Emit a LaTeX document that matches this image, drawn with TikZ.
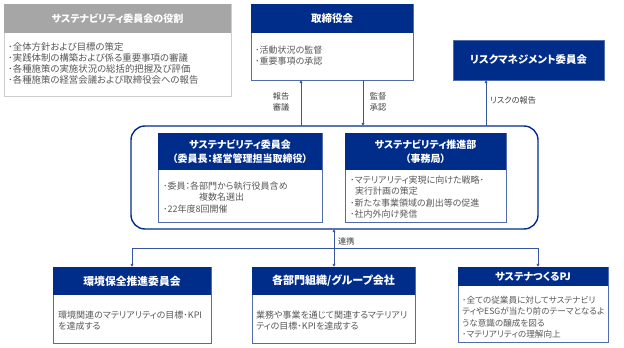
\documentclass[tikz,border=0pt]{standalone}
\usepackage{fontspec}
\setmainfont{Noto Sans CJK JP}[RawFeature=+palt]
\usetikzlibrary{arrows.meta}
\definecolor{navy}{RGB}{0,45,138}
\definecolor{edgeblue}{RGB}{80,108,172}
\definecolor{txtgray}{RGB}{89,89,89}
\definecolor{lblgray}{RGB}{64,64,64}
\definecolor{hdgray}{RGB}{166,166,166}
\definecolor{bdgray}{RGB}{205,205,205}
\definecolor{arrblue}{RGB}{55,85,160}
\begin{document}
\begin{tikzpicture}[x=1pt,y=-1pt,
  frame/.style={draw=edgeblue, line width=0.8pt, fill=white, anchor=north west, inner sep=0pt, outer sep=0pt},
  hdr/.style={fill=navy, anchor=north west, inner sep=0pt, outer sep=0pt},
  hdrtxt/.style={text=white, font=\bfseries\fontsize{10}{13}\selectfont, align=center, inner sep=0pt},
  bodytxt/.style={anchor=north west, inner sep=0pt, text=txtgray, font=\fontsize{9}{11.4}\selectfont, align=left},
  arr/.style={draw=arrblue, line width=0.7pt, -{Latex[length=3.2pt,width=3.4pt]}},
  darr/.style={draw=arrblue, line width=0.7pt, {Latex[length=3.2pt,width=3.4pt]}-{Latex[length=3.2pt,width=3.4pt]}},
  lbl/.style={text=lblgray, font=\fontsize{8.2}{11}\selectfont, align=center, inner sep=0pt}
]
\useasboundingbox (0,0) rectangle (624,348);

% role box
\node[draw=bdgray, line width=0.8pt, fill=white, anchor=north west, inner sep=0pt, outer sep=0pt, minimum width=227pt, minimum height=92pt] (role) at (4,4) {};
\node[fill=hdgray, anchor=north west, inner sep=0pt, outer sep=0pt, minimum width=227pt, minimum height=29pt] (rolehd) at (4,4) {};
\node[hdrtxt, font=\bfseries\fontsize{10}{12}\selectfont] (roleti) at (rolehd.center) {サステナビリティ委員会の役割};
\node[bodytxt, font=\fontsize{9.4}{11}\selectfont] (rolebd) at (8,42.5) {･全体方針および目標の策定\\･実践体制の構築および係る重要事項の審議\\･各種施策の実施状況の総括的把握及び評価\\･各種施策の経営会議および取締役会への報告};

% board
\node[frame, minimum width=162pt, minimum height=76pt] (board) at (251,4) {};
\node[hdr, minimum width=162pt, minimum height=29pt] (boardhd) at (251,4) {};
\node[hdrtxt, font=\bfseries\fontsize{10.5}{13}\selectfont] (boardti) at (boardhd.center) {取締役会};
\node[bodytxt] (boardbd) at (255,45.5) {･活動状況の監督\\･重要事項の承認};

% risk
\node[hdr, draw=edgeblue, line width=0.6pt, minimum width=151pt, minimum height=40pt] (risk) at (453,40) {};
\node[hdrtxt, font=\bfseries\fontsize{10.4}{13}\selectfont] (riskti) at (risk.center) {リスクマネジメント委員会};

% rounded container
\node[draw=navy, line width=1.4pt, rounded corners=14pt, anchor=north west, inner sep=0pt, outer sep=0pt, minimum width=407pt, minimum height=103pt] (round) at (131,126) {};

% inner 1
\node[frame, minimum width=164pt, minimum height=89pt] (com) at (158,133) {};
\node[hdr, minimum width=164pt, minimum height=37pt] (comhd) at (158,133) {};
\node[hdrtxt, font=\bfseries\fontsize{10}{14}\selectfont] (comti) at (comhd.center) {サステナビリティ委員会\\（委員長：経営管理担当取締役）};
\node[bodytxt] (combd) at (163,181.5) {･委員：各部門から執行役員含め\\\hspace*{36pt}複数名選出\\･22年度8回開催};

% inner 2
\node[frame, minimum width=161pt, minimum height=89pt] (dept) at (345,133) {};
\node[hdr, minimum width=161pt, minimum height=37pt] (depthd) at (345,133) {};
\node[hdrtxt, font=\bfseries\fontsize{10}{14}\selectfont] (deptti) at (depthd.center) {サステナビリティ推進部\\（事務局）};
\node[bodytxt] (deptbd) at (350,175.5) {･マテリアリティ実現に向けた戦略･\\\hspace*{5pt}実行計画の策定\\･新たな事業領域の創出等の促進\\･社内外向け発信};

% bottom A
\node[frame, minimum width=158pt, minimum height=76pt] (env) at (53,267) {};
\node[hdr, minimum width=158pt, minimum height=28pt] (envhd) at (53,267) {};
\node[hdrtxt, font=\bfseries\fontsize{10.8}{13}\selectfont] (envti) at (envhd.center) {環境保全推進委員会};
\node[bodytxt] (envbd) at (58,310.5) {環境関連のマテリアリティの目標･KPI\\を達成する};

% bottom B
\node[frame, minimum width=163pt, minimum height=76pt] (grp) at (252,267) {};
\node[hdr, minimum width=163pt, minimum height=28pt] (grphd) at (252,267) {};
\node[hdrtxt, font=\bfseries\fontsize{11}{13}\selectfont] (grpti) at (grphd.center) {各部門組織/グループ会社};
\node[bodytxt] (grpbd) at (256,310.5) {業務や事業を通じて関連するマテリアリ\\ティの目標･KPIを達成する};

% bottom C
\node[frame, minimum width=150pt, minimum height=75pt] (pj) at (458,267) {};
\node[hdr, minimum width=150pt, minimum height=19pt] (pjhd) at (458,267) {};
\node[hdrtxt, font=\bfseries\fontsize{10.2}{13}\selectfont] (pjti) at (pjhd.center) {サステナつくるPJ};
\node[bodytxt, font=\fontsize{8.6}{11.4}\selectfont] (pjbd) at (462,296) {･全ての従業員に対してサステナビリ\\ティやESGが当たり前のテーマとなるよ\\うな意識の醸成を図る\\･マテリアリティの理解向上};

% connectors
\coordinate (xup) at (301,0);
\coordinate (xdn) at (363,0);
\coordinate (xrk) at (486,0);
\coordinate (xmid) at (334,0);
\coordinate (jl) at (132,248);
\coordinate (jr) at (538,248);
\draw[arr] (xup |- round.north) -- (xup |- board.south);
\draw[arr] (xdn |- board.south) -- (xdn |- round.north);
\draw[arr] (xrk |- round.north) -- (xrk |- risk.south);
\draw[darr] (xmid |- round.south) -- (xmid |- grp.north);
\draw[arr] (jl -| env.center) -- (env.north);
\draw[arr] (jr) -- (jr |- pj.north);
\draw[draw=arrblue, line width=0.7pt] (jl -| env.center) -- (jr);

\node[lbl] (l1) at (281,102) {報告\\審議};
\node[lbl] (l2) at (378,102) {監督\\承認};
\node[lbl, anchor=west] (l3) at (490,100) {リスクの報告};
\node[lbl, anchor=west] (l4) at (338,241) {連携};
\end{tikzpicture}
\end{document}
